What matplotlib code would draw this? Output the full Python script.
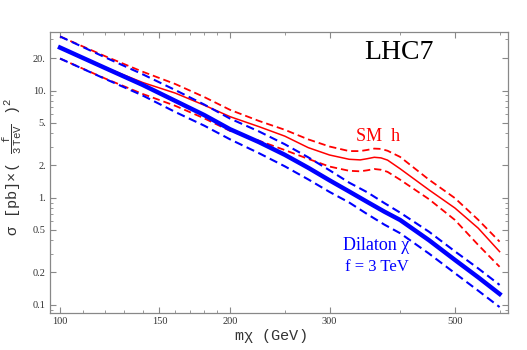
import matplotlib
matplotlib.use("Agg")
import matplotlib.pyplot as plt
from matplotlib.ticker import FixedLocator, FixedFormatter, NullFormatter

# ── data ──
sm_mass = [100, 120, 140, 160, 180, 200, 225, 250, 275, 300,
           325, 340, 350, 360, 370, 380, 400, 450, 500, 550, 600]
sm_central = [25.2, 16.5, 11.9, 9.46, 7.3, 5.7, 4.6, 3.75, 2.93, 2.5,
              2.28, 2.25, 2.31, 2.38, 2.35, 2.24, 1.86, 1.18, 0.80, 0.518, 0.313]
sm_upper = [32.0, 21.0, 15.0, 11.5, 8.7, 6.6, 5.2, 4.3, 3.5, 3.0,
            2.72, 2.72, 2.79, 2.87, 2.85, 2.74, 2.4, 1.47, 0.99, 0.62, 0.388]
sm_lower = [19.9, 13.0, 9.3, 7.2, 5.5, 4.2, 3.4, 2.78, 2.3, 1.95,
            1.78, 1.76, 1.80, 1.85, 1.82, 1.74, 1.47, 0.966, 0.619, 0.361, 0.226]

dil_mass = [100, 120, 140, 160, 180, 200, 225, 250, 275, 300,
            325, 350, 375, 400, 450, 500, 550, 600]
dil_central = [25.2, 16.3, 11.3, 8.0, 5.9, 4.35, 3.3, 2.51, 1.9, 1.45,
               1.14, 0.91, 0.74, 0.618, 0.40, 0.262, 0.18, 0.126]
dil_upper = [32.0, 20.5, 14.2, 10.1, 7.4, 5.47, 4.15, 3.15, 2.38, 1.8,
             1.38, 1.12, 0.89, 0.724, 0.48, 0.315, 0.218, 0.153]
dil_lower = [19.9, 12.9, 9.0, 6.3, 4.7, 3.5, 2.6, 1.96, 1.48, 1.13,
             0.9, 0.70, 0.56, 0.465, 0.30, 0.197, 0.135, 0.095]

x_major = [100, 150, 200, 300, 500]
x_major_labels = ["100", "150", "200", "300", "500"]
x_minor = [110, 120, 130, 140, 160, 170, 180, 190, 250, 400, 600]
y_major = [0.1, 0.2, 0.5, 1, 2, 5, 10, 20]
y_major_labels = ["0.1", "0.2", "0.5", "1.", "2.", "5.", "10.", "20."]
y_minor = [0.09, 0.3, 0.4, 0.6, 0.7, 0.8, 0.9, 3, 4, 6, 7, 8, 9, 30]

plt.rcParams["mathtext.fontset"] = "custom"
plt.rcParams["mathtext.rm"] = "Liberation Mono"
plt.rcParams["mathtext.it"] = "Liberation Mono"
plt.rcParams["mathtext.tt"] = "Liberation Mono"

fig = plt.figure(figsize=(5.27, 3.5), dpi=100)
ax = fig.add_axes([0.0949, 0.1057, 0.8691, 0.8043])

dash = (0, (4, 2.2))
# SM Higgs (red)
ax.plot(sm_mass, sm_upper, color="#ff0000", lw=1.3, ls=dash)
ax.plot(sm_mass, sm_lower, color="#ff0000", lw=1.3, ls=dash)
ax.plot(sm_mass, sm_central, color="#ff0000", lw=1.1)
# Dilaton (blue)
ax.plot(dil_mass, dil_upper, color="#0000ff", lw=1.5, ls=dash)
ax.plot(dil_mass, dil_lower, color="#0000ff", lw=1.5, ls=dash)
ax.plot(dil_mass, dil_central, color="#0000ff", lw=3.2)

ax.set_xscale("log")
ax.set_yscale("log")
ax.set_xlim(96, 621)
ax.set_ylim(0.0836, 35.6)

ax.xaxis.set_major_locator(FixedLocator(x_major))
ax.xaxis.set_major_formatter(FixedFormatter(x_major_labels))
ax.xaxis.set_minor_locator(FixedLocator(x_minor))
ax.xaxis.set_minor_formatter(NullFormatter())
ax.yaxis.set_major_locator(FixedLocator(y_major))
ax.yaxis.set_major_formatter(FixedFormatter(y_major_labels))
ax.yaxis.set_minor_locator(FixedLocator(y_minor))
ax.yaxis.set_minor_formatter(NullFormatter())

ax.tick_params(which="both", direction="in", top=True, right=True,
               color="#888888", labelsize=7.5, labelcolor="#333333", pad=3)
ax.tick_params(which="major", length=4, width=0.8)
ax.tick_params(which="minor", length=2, width=0.6)
for lab in ax.get_xticklabels() + ax.get_yticklabels():
    lab.set_fontfamily("Liberation Serif")
for sp in ax.spines.values():
    sp.set_color("#888888")
    sp.set_linewidth(0.9)

ax.set_xlabel(r"m$\chi$ (GeV)", fontfamily="Liberation Mono", fontsize=11,
              color="#333333")
ax.xaxis.set_label_coords(0.48, -0.05)

# y label placed by its centre so it cannot run off the left edge
fig.text(13 / 527, 1 - 167 / 350,
         r"$\sigma$ [pb]$\times$( $\frac{\mathrm{f}}{\mathrm{3\ TeV}}$ )$^{2}$",
         rotation=90, ha="center", va="center",
         fontfamily="Liberation Mono", fontsize=11, color="#333333")

ax.text(0.762, 0.924, "LHC7", transform=ax.transAxes, ha="center", va="center",
        fontfamily="Liberation Serif", fontsize=20)
ax.text(0.716, 0.627, "SM  h", transform=ax.transAxes, ha="center", va="center",
        fontfamily="Liberation Serif", fontsize=13, color="#ff0000")
ax.text(0.712, 0.24, "Dilaton χ", transform=ax.transAxes, ha="center", va="center",
        fontfamily="Liberation Serif", fontsize=13, color="#0000ff")
ax.text(0.714, 0.163, "f = 3 TeV", transform=ax.transAxes, ha="center", va="center",
        fontfamily="Liberation Serif", fontsize=12, color="#0000ff")

fig.savefig("out.png", dpi=100)
